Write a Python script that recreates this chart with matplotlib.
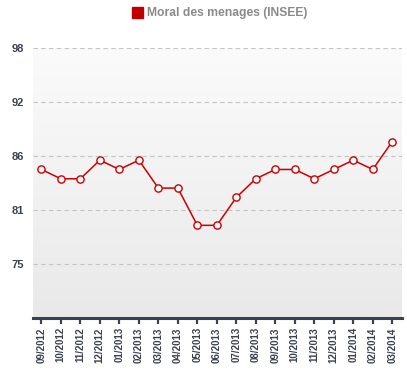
import numpy as np
import matplotlib
matplotlib.use("Agg")
import matplotlib.pyplot as plt
from matplotlib.colors import LinearSegmentedColormap
from matplotlib.patches import Rectangle

plt.rcParams["font.family"] = ["Liberation Sans", "DejaVu Sans"]

# données
months = ["09/2012", "10/2012", "11/2012", "12/2012", "01/2013", "02/2013",
          "03/2013", "04/2013", "05/2013", "06/2013", "07/2013", "08/2013",
          "09/2013", "10/2013", "11/2013", "12/2013", "01/2014", "02/2014",
          "03/2014"]
moral = [85, 84, 84, 86, 85, 86, 83, 83, 79, 79, 82, 84, 85, 85, 84, 85, 86, 85, 88]
ytick_labels = ["75", "81", "86", "92", "98"]
series_name = "Moral des menages (INSEE)"

RED = "#cc0000"
DARK = "#3c4150"

fig = plt.figure(figsize=(4.07, 3.75), dpi=100)
fig.patch.set_facecolor("white")
ax = fig.add_axes([33 / 407, 1 - 317.5 / 375, 369 / 407, 270 / 375])

x = np.arange(len(months))
ymin, ymax = 69.1, 98.1
xmin, xmax = -0.43, len(months) - 0.5

# fond dégradé
cmap = LinearSegmentedColormap.from_list("bg", ["#e9e9e9", "#fbfbfb"])
ax.imshow(np.linspace(0, 1, 256).reshape(-1, 1), cmap=cmap, aspect="auto",
          origin="lower", extent=(xmin, xmax, ymin, ymax), zorder=0)

yticks = np.linspace(ymin, ymax, 6)[1:]
for yv in yticks:
    ax.axhline(yv, color="#c4c4c4", lw=0.8, ls=(0, (4, 3)), zorder=1)

ax.plot(x, moral, color=RED, lw=1.1, marker="o", ms=5.2, mfc="white",
        mec=RED, mew=1.0, zorder=3)

ax.set_xlim(xmin, xmax)
ax.set_ylim(ymin, ymax)
ax.set_yticks(yticks)
ax.set_yticklabels(ytick_labels, fontsize=8, fontweight="bold", color=DARK)
ax.set_xticks(x)
ax.set_xticklabels(months, rotation=90, fontsize=7, fontweight="bold", color=DARK)
ax.tick_params(axis="y", length=0, pad=6.5)
ax.tick_params(axis="x", length=4, width=1.6, color=DARK, pad=3)
for s in ["top", "right", "left"]:
    ax.spines[s].set_visible(False)
ax.spines["bottom"].set_color(DARK)
ax.spines["bottom"].set_linewidth(2.2)

# légende
fig.patches.append(Rectangle((132 / 407, 1 - 18 / 375), 11 / 407, 11 / 375,
                             transform=fig.transFigure, color="#c00000"))
fig.text(147 / 407, 1 - 13 / 375, series_name, fontsize=8.7, fontweight="bold",
         color="#8a8a8a", va="center", ha="left")

fig.savefig("out.png", dpi=100, facecolor="white")
